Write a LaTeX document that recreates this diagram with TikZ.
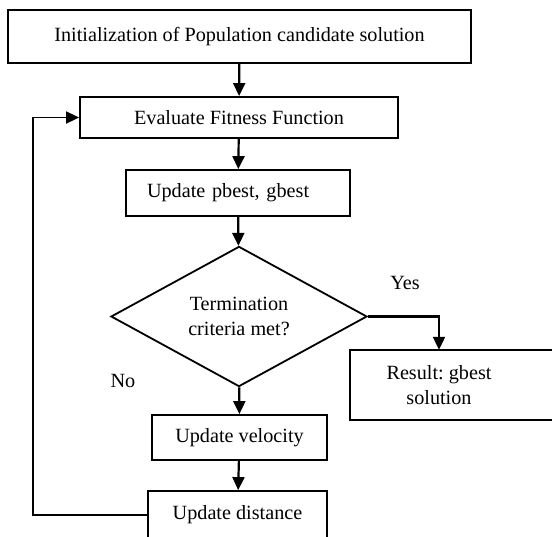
\documentclass[tikz,border=0pt]{standalone}
\usepackage{fontspec}
\setmainfont{Liberation Serif}
\usetikzlibrary{shapes.geometric,arrows.meta}
\frenchspacing
\begin{document}
\begin{tikzpicture}[x=1pt,y=-1pt]
	\tikzstyle{blk} = [rectangle, draw, line width=1.8pt, inner sep=0pt, font=\fontsize{20.2}{25}\selectfont, align=center]
	\tikzstyle{decide} = [diamond, draw, line width=1.8pt, inner sep=0pt, minimum width=256pt, minimum height=127pt, font=\fontsize{20.2}{25}\selectfont, align=center]
	\tikzstyle{txt} = [inner sep=0pt, font=\fontsize{20.2}{25}\selectfont, align=center]
	\tikzstyle{edge} = [line width=2.2pt, -{Triangle[length=13pt,width=12pt]}]
	\tikzstyle{feed} = [line width=1.8pt]
\def\midx{239.5}

\useasboundingbox (0,0) rectangle (552,536);

%main column
\node[blk, minimum width=463pt, minimum height=53pt] (init) at (\midx, 36.5) {Initialization of Population candidate solution};
\node[blk, minimum width=318pt, minimum height=41pt] (eval) at (239, 117.5) {Evaluate Fitness Function};
\node[blk, text width=182pt, inner xsep=21pt, minimum height=46pt, align=left] (pbest) at (238, 193) {Update pbest, gbest};
\node[decide] (term) at (239, 316.5) {Termination\\criteria met?};
\node[blk, minimum width=175pt, minimum height=45pt] (vel) at (\midx, 437.5) {Update velocity};
\node[blk, minimum width=179pt, minimum height=48pt] (dist) at (237.5, 515) {Update distance};

%result, box runs off the right edge
\node[txt, minimum width=178pt, minimum height=70pt] (result) at (439, 385) {Result: gbest\\solution};
\draw[feed] (result.north west) rectangle ([xshift=240pt]result.south west);

%labels
\node[txt] (yes) at (405, 283) {Yes};
\node[txt] (no) at (123, 381) {No};

\foreach \from/\to in {init/eval, eval/pbest, pbest/term, term/vel, vel/dist}
	\draw[edge] (\from) -- (\to);

\draw[edge] (term.east) -| (result.north);
\draw[feed, -{Triangle[length=13pt,width=12pt]}] (dist.west) -- (33, 515) |- (eval.west);
\end{tikzpicture}
\end{document}
